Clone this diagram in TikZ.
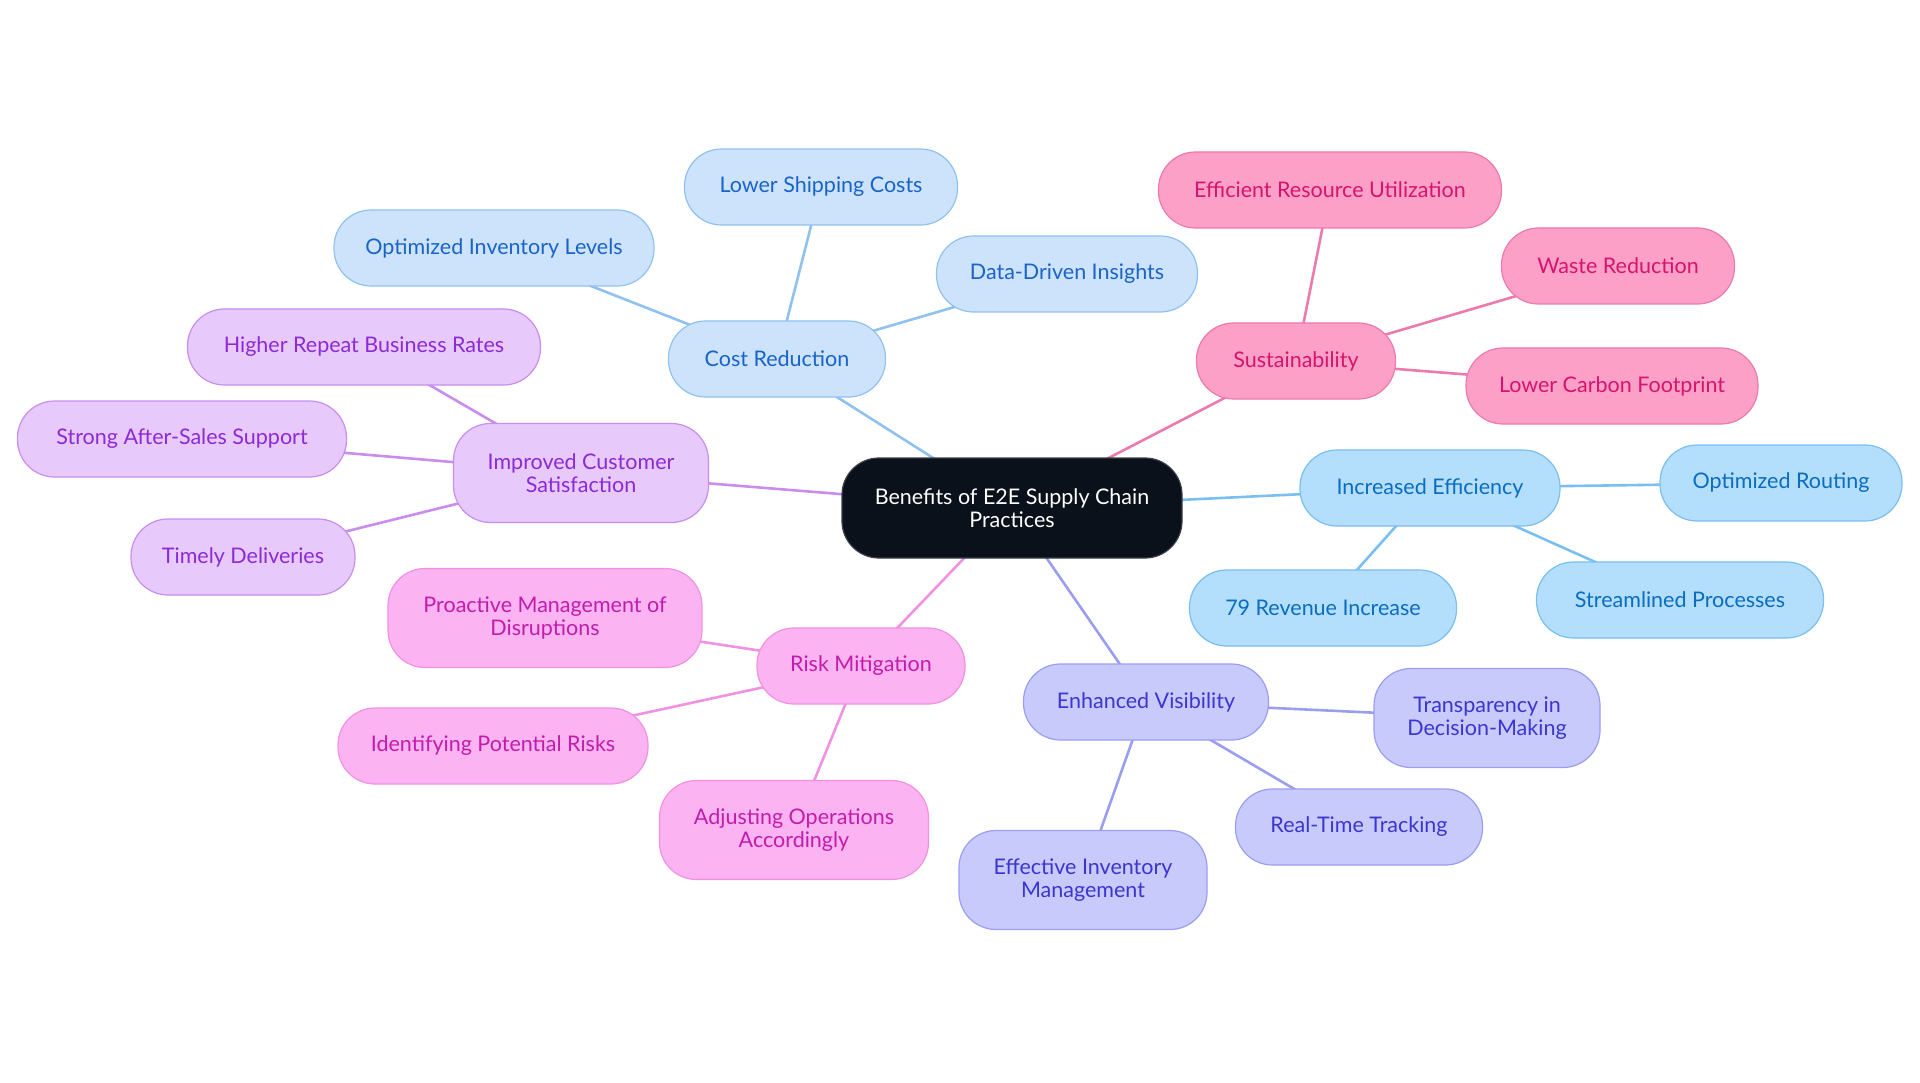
\documentclass[tikz,border=0pt]{standalone}
\usepackage{fontspec}
\setmainfont{Lato}
\pgfdeclarelayer{background}
\pgfsetlayers{background,main}
\definecolor{bF}{HTML}{CCE3FB}\definecolor{bD}{HTML}{90C2F0}\definecolor{bT}{HTML}{1A63C9}
\definecolor{pF}{HTML}{FCA0C8}\definecolor{pD}{HTML}{EC7AAF}\definecolor{pT}{HTML}{D6146E}
\definecolor{lF}{HTML}{B3DEFC}\definecolor{lD}{HTML}{79BFF0}\definecolor{lT}{HTML}{0A6DC0}
\definecolor{vF}{HTML}{E8C9FC}\definecolor{vD}{HTML}{C88DEE}\definecolor{vT}{HTML}{8B2AD6}
\definecolor{mF}{HTML}{FCB3F2}\definecolor{mD}{HTML}{F091E2}\definecolor{mT}{HTML}{C21DAA}
\definecolor{iF}{HTML}{C8CAFC}\definecolor{iD}{HTML}{9A9DF0}\definecolor{iT}{HTML}{3A36CF}
\definecolor{cF}{HTML}{0B111A}\definecolor{cD}{HTML}{3A3F47}
\tikzset{
  box/.style={rounded corners=37pt, line width=1.2pt, align=center, inner sep=0pt,
    font=\fontsize{21.5}{23}\selectfont, minimum height=76pt},
  tall/.style={minimum height=99pt},
  blue/.style={box, fill=bF, draw=bD, text=bT},
  pink/.style={box, fill=pF, draw=pD, text=pT},
  lblue/.style={box, fill=lF, draw=lD, text=lT},
  violet/.style={box, fill=vF, draw=vD, text=vT},
  mag/.style={box, fill=mF, draw=mD, text=mT},
  indi/.style={box, fill=iF, draw=iD, text=iT},
  central/.style={box, fill=cF, draw=cD, text=white, minimum height=100pt},
  link/.style={line width=2.6pt}
}
\begin{document}
\begin{tikzpicture}[x=1pt,y=-1pt]
\useasboundingbox (0,0) rectangle (1920,1083);
% center
\node[central, minimum width=340pt] (c) at (1012,508) {Benefits of E2E Supply Chain\\Practices};
% cost reduction
\node[blue, minimum width=217pt] (cr) at (777,359) {Cost Reduction};
\node[blue, minimum width=273pt] (lsc) at (821,187) {Lower Shipping Costs};
\node[blue, minimum width=261pt] (ddi) at (1067,274) {Data-Driven Insights};
\node[blue, minimum width=320pt] (oil) at (494,248) {Optimized Inventory Levels};
% sustainability
\node[pink, minimum width=199pt] (su) at (1296,361) {Sustainability};
\node[pink, minimum width=343pt] (eru) at (1330,190) {Efficient Resource Utilization};
\node[pink, minimum width=233pt] (wr) at (1618,266) {Waste Reduction};
\node[pink, minimum width=292pt] (lcf) at (1612,386) {Lower Carbon Footprint};
% increased efficiency
\node[lblue, minimum width=260pt] (ie) at (1430,488) {Increased Efficiency};
\node[lblue, minimum width=242pt] (or) at (1781,483) {Optimized Routing};
\node[lblue, minimum width=267pt] (rev) at (1323,608) {79 Revenue Increase};
\node[lblue, minimum width=287pt] (sp) at (1680,600) {Streamlined Processes};
% customer satisfaction
\node[violet, tall, minimum width=255pt] (ics) at (581,473) {Improved Customer\\Satisfaction};
\node[violet, minimum width=353pt] (hrb) at (364,347) {Higher Repeat Business Rates};
\node[violet, minimum width=329pt] (sas) at (182,439) {Strong After-Sales Support};
\node[violet, minimum width=224pt] (td) at (243,557) {Timely Deliveries};
% risk mitigation
\node[mag, minimum width=208pt] (rm) at (861,666) {Risk Mitigation};
\node[mag, tall, minimum width=314pt] (pmd) at (545,618) {Proactive Management of\\Disruptions};
\node[mag, minimum width=310pt] (ipr) at (493,746) {Identifying Potential Risks};
\node[mag, tall, minimum width=269pt] (aoa) at (794,830) {Adjusting Operations\\Accordingly};
% enhanced visibility
\node[indi, minimum width=245pt] (ev) at (1146,702) {Enhanced Visibility};
\node[indi, tall, minimum width=226pt] (tdm) at (1487,718) {Transparency in\\Decision-Making};
\node[indi, minimum width=247pt] (rtt) at (1359,827) {Real-Time Tracking};
\node[indi, tall, minimum width=248pt] (eim) at (1083,880) {Effective Inventory\\Management};
\begin{pgfonlayer}{background}
\draw[link, bD] (c.center) -- (cr.center);
\draw[link, bD] (cr.center) -- (lsc.center);
\draw[link, bD] (cr.center) -- (ddi.center);
\draw[link, bD] (cr.center) -- (oil.center);
\draw[link, pD] (c.center) -- (su.center);
\draw[link, pD] (su.center) -- (eru.center);
\draw[link, pD] (su.center) -- (wr.center);
\draw[link, pD] (su.center) -- (lcf.center);
\draw[link, lD] (c.center) -- (ie.center);
\draw[link, lD] (ie.center) -- (or.center);
\draw[link, lD] (ie.center) -- (rev.center);
\draw[link, lD] (ie.center) -- (sp.center);
\draw[link, vD] (c.center) -- (ics.center);
\draw[link, vD] (ics.center) -- (hrb.center);
\draw[link, vD] (ics.center) -- (sas.center);
\draw[link, vD] (ics.center) -- (td.center);
\draw[link, mD] (c.center) -- (rm.center);
\draw[link, mD] (rm.center) -- (pmd.center);
\draw[link, mD] (rm.center) -- (ipr.center);
\draw[link, mD] (rm.center) -- (aoa.center);
\draw[link, iD] (c.center) -- (ev.center);
\draw[link, iD] (ev.center) -- (tdm.center);
\draw[link, iD] (ev.center) -- (rtt.center);
\draw[link, iD] (ev.center) -- (eim.center);
\end{pgfonlayer}
\end{tikzpicture}
\end{document}
